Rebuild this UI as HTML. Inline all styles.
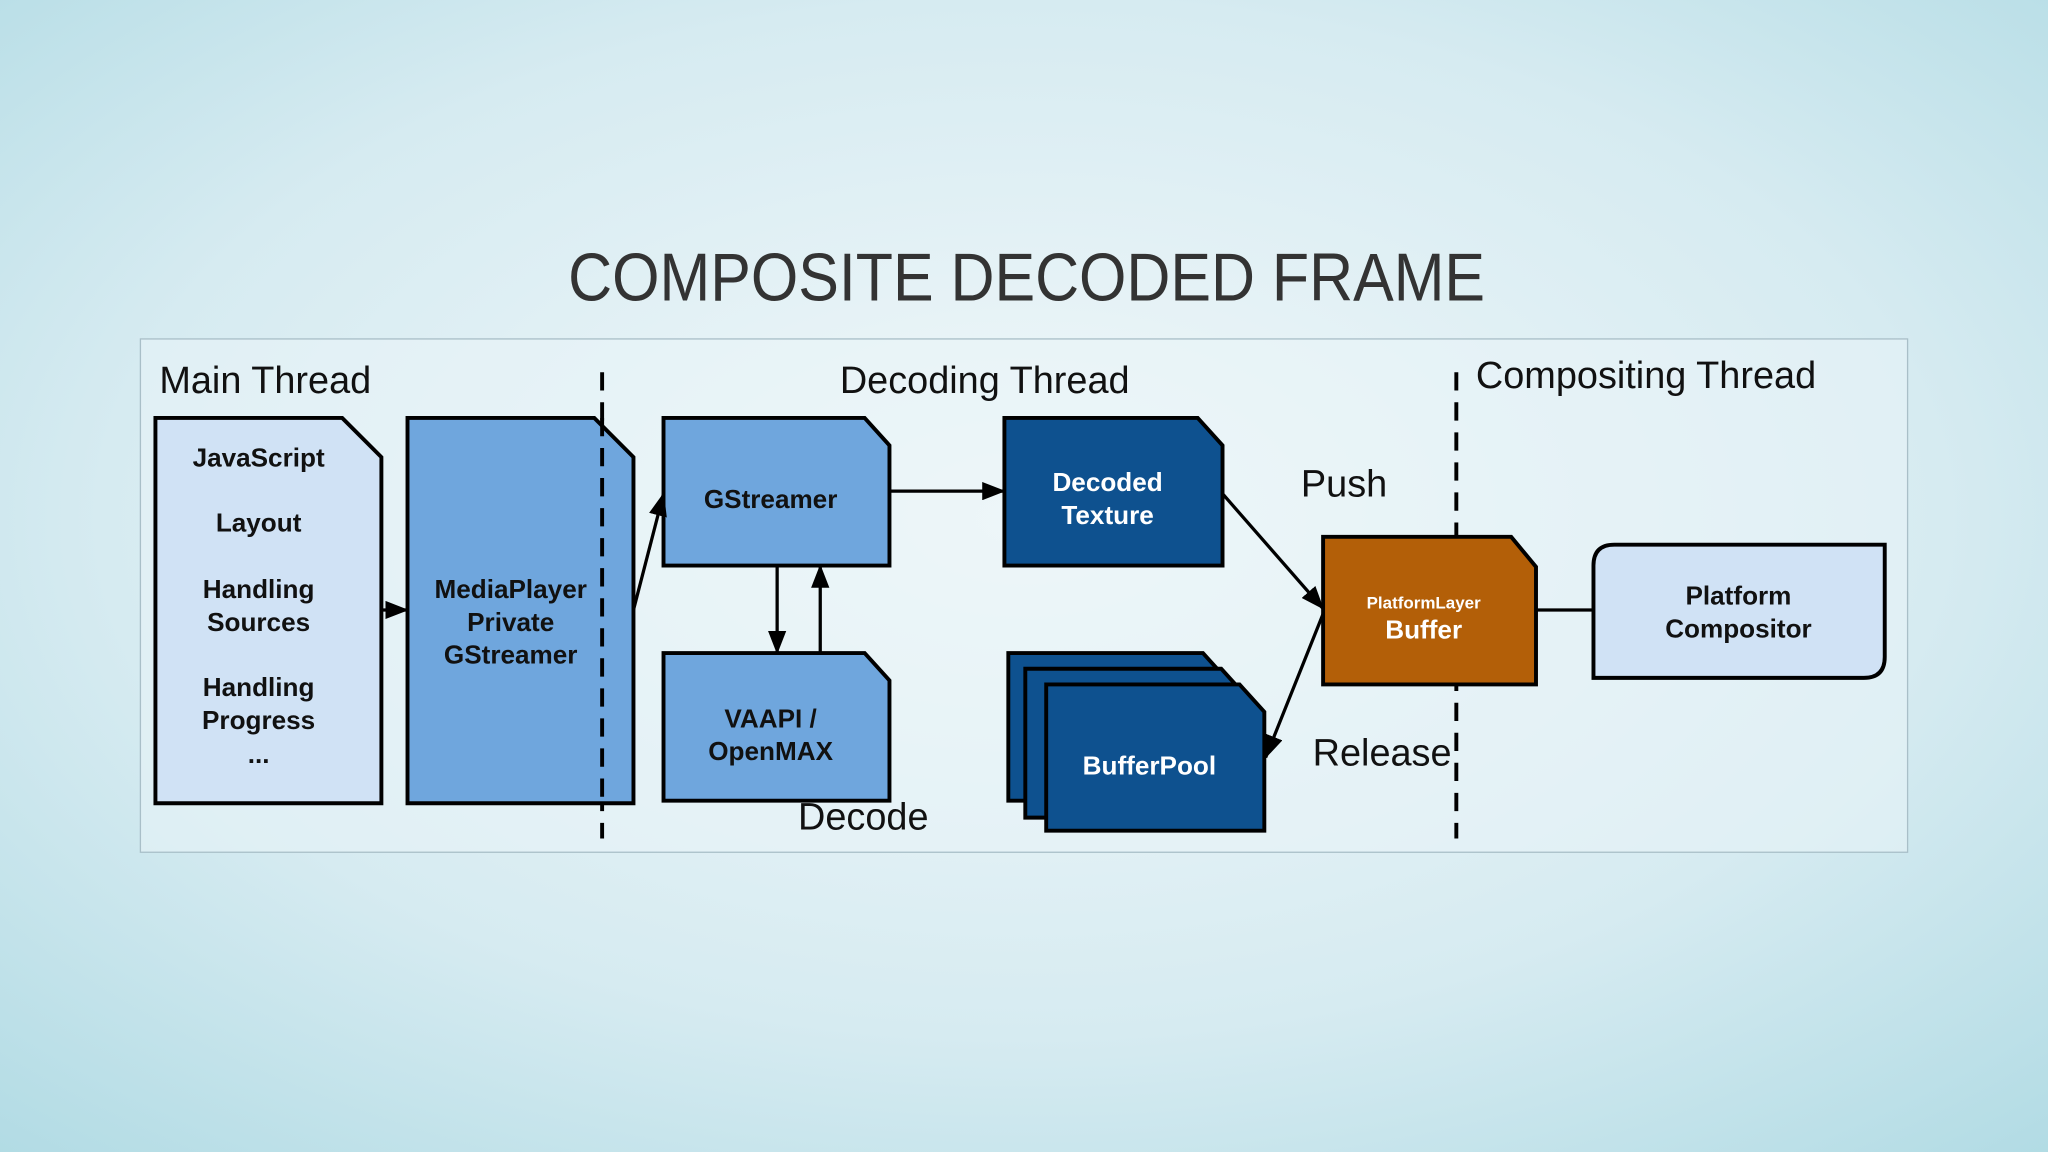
<!DOCTYPE html>
<html><head><meta charset="utf-8"><style>
html,body{margin:0;padding:0;width:2048px;height:1152px;overflow:hidden}
svg{display:block}
text{font-family:"Liberation Sans",Arial,sans-serif}
</style></head><body>
<svg width="2048" height="1152" viewBox="0 0 1568 882" xmlns="http://www.w3.org/2000/svg">
<defs>
<radialGradient id="bg" cx="0.5" cy="0.45" r="0.75">
<stop offset="0" stop-color="#f2f8fa"/><stop offset="0.6" stop-color="#d6ebf1"/><stop offset="1" stop-color="#b1dbe4"/>
</radialGradient>
<marker id="ah" markerWidth="10" markerHeight="10" refX="9" refY="5" orient="auto" markerUnits="userSpaceOnUse"><path d="M0,0 L10,5 L0,10 Z" fill="#000"/></marker>
<marker id="ahl" markerWidth="18" markerHeight="14" refX="17" refY="7" orient="auto" markerUnits="userSpaceOnUse"><path d="M0,0 L18,7 L0,14 Z" fill="#000"/></marker>
</defs>
<rect width="1568" height="882" fill="url(#bg)"/>
<text x="786" y="230" font-size="52" fill="#333" text-anchor="middle" textLength="702" lengthAdjust="spacingAndGlyphs" font-weight="normal">COMPOSITE DECODED FRAME</text>
<rect x="107.5" y="259.5" width="1353" height="393" fill="#eaf4f8" fill-opacity="0.55" stroke="#a9bfc8" stroke-width="1"/>
<g font-size="29" fill="#111">
<text x="122" y="301">Main Thread</text>
<text x="643" y="301">Decoding Thread</text>
<text x="1130" y="297">Compositing Thread</text>
<text x="996" y="380">Push</text>
<text x="1005" y="586">Release</text>
<text x="611" y="635">Decode</text>
</g>
<g stroke="#000" stroke-width="3" stroke-dasharray="14,9" fill="none">
<line x1="461" y1="285" x2="461" y2="642"/>
<line x1="1115" y1="285" x2="1115" y2="642"/>
</g>
<g stroke="#000" stroke-width="3" stroke-linejoin="miter">
<path d="M119,320 H262 L292,350 V615 H119 Z" fill="#d0e2f5"/>
<path d="M312,320 H455 L485,350 V615 H312 Z" fill="#6fa6dd"/>
<path d="M508,320 H662 L681,341 V433 H508 Z" fill="#6fa6dd"/>
<path d="M508,500 H662 L681,521 V613 H508 Z" fill="#6fa6dd"/>
<path d="M769,320 H917 L936,341 V433 H769 Z" fill="#0e518f"/>
<path d="M772,500 H921 L940,521 V613 H772 Z" fill="#0e518f"/>
<path d="M785,512 H935 L954,533 V626 H785 Z" fill="#0e518f"/>
<path d="M801,524 H949 L968,545 V636 H801 Z" fill="#0e518f"/>
<path d="M1013,411 H1157 L1176,434 V524 H1013 Z" fill="#b35f08"/>
<path d="M1236,417 H1443 V503 Q1443,519 1427,519 H1220 V433 Q1220,417 1236,417 Z" fill="#d0e2f5"/>
</g>
<line x1="461" y1="320" x2="461" y2="615" stroke="#000" stroke-width="3" stroke-dasharray="14,9"/>
<g stroke="#000" stroke-width="2.5" fill="none">
<line x1="292" y1="467" x2="312" y2="467" marker-end="url(#ahl)"/>
<line x1="485" y1="467" x2="508" y2="378" marker-end="url(#ahl)"/>
<line x1="681" y1="376" x2="769" y2="376" marker-end="url(#ahl)"/>
<line x1="595" y1="433" x2="595" y2="500" marker-end="url(#ahl)"/>
<line x1="628" y1="500" x2="628" y2="433" marker-end="url(#ahl)"/>
<line x1="936" y1="378" x2="1013" y2="466" marker-end="url(#ahl)"/>
<line x1="1013" y1="470" x2="969" y2="580" marker-end="url(#ahl)"/>
<line x1="1176" y1="467" x2="1220" y2="467"/>
</g>
<g font-size="20" font-weight="bold" text-anchor="middle" fill="#111">
<text x="198" y="357">JavaScript</text>
<text x="198" y="407">Layout</text>
<text x="198" y="458">Handling</text>
<text x="198" y="483">Sources</text>
<text x="198" y="533">Handling</text>
<text x="198" y="558">Progress</text>
<text x="198" y="584">...</text>
<text x="391" y="458">MediaPlayer</text>
<text x="391" y="483">Private</text>
<text x="391" y="508">GStreamer</text>
<text x="590" y="389">GStreamer</text>
<text x="590" y="557">VAAPI /</text>
<text x="590" y="582">OpenMAX</text>
<text x="1331" y="463">Platform</text>
<text x="1331" y="488">Compositor</text>
</g>
<g font-weight="bold" text-anchor="middle" fill="#fff">
<text x="848" y="376" font-size="20">Decoded</text>
<text x="848" y="401" font-size="20">Texture</text>
<text x="880" y="593" font-size="20">BufferPool</text>
<text x="1090" y="466" font-size="13">PlatformLayer</text>
<text x="1090" y="489" font-size="20">Buffer</text>
</g>
</svg>
</body></html>
